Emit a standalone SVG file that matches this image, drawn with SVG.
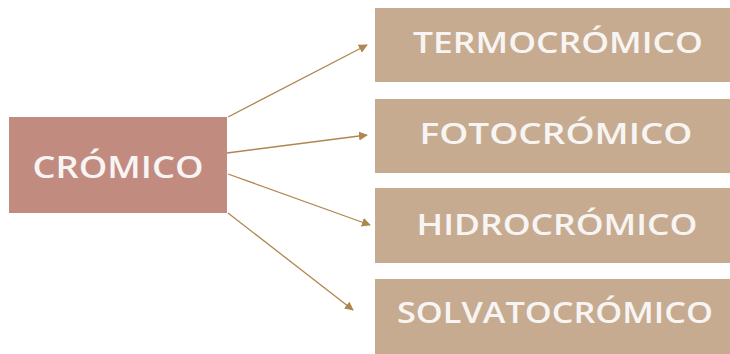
<svg xmlns="http://www.w3.org/2000/svg" width="730" height="354" viewBox="0 0 730 354">
  <style>
    .root { fill: #C28B80; }
    .leaf { fill: #C7AB90; }
    .label { fill: #F7F5F3; font-family: "Open Sans", Lato, sans-serif; font-weight: 600; text-anchor: middle; }
    .edge { stroke: #B0864F; stroke-width: 1.3; fill: none; marker-end: url(#arrow); }
  </style>
  <defs>
    <marker id="arrow" viewBox="0 0 10 10" refX="9" refY="5" markerWidth="9" markerHeight="9" markerUnits="userSpaceOnUse" orient="auto">
      <path d="M0,0 L10,5 L0,10 z" fill="#B0864F"/>
    </marker>
  </defs>
  <rect width="730" height="354" fill="#FFFFFF"/>

  <g id="cromico">
    <rect class="root" x="9" y="117" width="218" height="96"/>
    <text class="label" x="118" y="178" font-size="31" textLength="171" lengthAdjust="spacingAndGlyphs">CRÓMICO</text>
  </g>

  <g id="termocromico">
    <rect class="leaf" x="375" y="8" width="355" height="74"/>
    <text class="label" x="558" y="53" font-size="29" textLength="290" lengthAdjust="spacingAndGlyphs">TERMOCRÓMICO</text>
  </g>

  <g id="fotocromico">
    <rect class="leaf" x="375" y="99" width="355" height="74"/>
    <text class="label" x="556" y="144" font-size="29" textLength="273" lengthAdjust="spacingAndGlyphs">FOTOCRÓMICO</text>
  </g>

  <g id="hidrocromico">
    <rect class="leaf" x="375" y="188" width="355" height="75"/>
    <text class="label" x="557" y="235" font-size="29" textLength="281" lengthAdjust="spacingAndGlyphs">HIDROCRÓMICO</text>
  </g>

  <g id="solvatocromico">
    <rect class="leaf" x="375" y="279" width="355" height="75"/>
    <text class="label" x="555" y="323" font-size="29" textLength="316" lengthAdjust="spacingAndGlyphs">SOLVATOCRÓMICO</text>
  </g>

  <g id="connectors">
    <line class="edge" x1="228" y1="117" x2="367" y2="45"/>
    <line class="edge" x1="227" y1="153" x2="367" y2="135"/>
    <line class="edge" x1="228" y1="174" x2="370" y2="225"/>
    <line class="edge" x1="228" y1="213" x2="353" y2="310"/>
  </g>
</svg>
